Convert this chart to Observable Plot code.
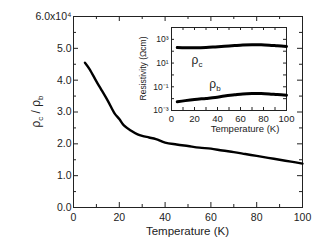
<!DOCTYPE html>
<html>
<head>
<meta charset="utf-8">
<script src="https://cdn.jsdelivr.net/npm/d3@7"></script>
<script src="https://cdn.jsdelivr.net/npm/@observablehq/plot@0.6"></script>
<style>
  html, body { margin: 0; padding: 0; background: white; }
  #wrap { position: relative; width: 327px; height: 251px; overflow: hidden; }
  #wrap svg { position: absolute; }
</style>
</head>
<body>
<div id="wrap"></div>
<script>
// ---- main data: ratio rho_c / rho_b (units of 1e4) vs temperature ----
const mainT =     [5,    7,    10,   12,   15,   18,   20,   22,   25,   28,   30,   33,   36,   40,   45,   50,   55,   60,   65,   70,   75,   80,   85,   90,   95,   100];
const mainRatio = [4.55, 4.35, 3.96, 3.72, 3.35, 2.95, 2.78, 2.58, 2.42, 2.30, 2.25, 2.20, 2.15, 2.04, 1.98, 1.93, 1.88, 1.85, 1.79, 1.74, 1.68, 1.62, 1.56, 1.50, 1.44, 1.38];

// ---- inset data: resistivities (Ohm cm) vs temperature ----
const insetT = [5,     12,     20,     30,     38,     46,     55,    62,    70,    78,    85,    92,    100];
const rhoC   = [205,   198,    195,    205,    230,    262,    300,   330,   350,   345,   320,   285,   250];
const rhoB   = [0.0054,0.0068, 0.0085, 0.0105, 0.0126, 0.0165, 0.021, 0.025, 0.027, 0.027, 0.025, 0.022, 0.0195];

// ---- ticks ----
const xMajor = [0, 20, 40, 60, 80, 100];
const xMinor = [10, 30, 50, 70, 90];
const yMajor = [0, 1, 2, 3, 4, 5, 6];
const yMinor = [0.5, 1.5, 2.5, 3.5, 4.5, 5.5];
const insetXTicks = [0, 10, 20, 30, 40, 50, 60, 70, 80, 90, 100];
const insetXLabels = [0, 20, 40, 60, 80, 100];
const insetYTicks = [1e-3, 1e-2, 1e-1, 1, 1e1, 1e2, 1e3];
const insetYLabels = [1e-3, 1e-1, 1e1, 1e3];
const insetYLabelText = ["10⁻³", "10⁻¹", "10¹", "10³"];

const font = "'Liberation Sans', Arial, Helvetica, sans-serif";
const ink = "#222";

// ---------------- main plot ----------------
const W = 327, H = 251, mL = 73, mR = 25, mT = 16, mB = 44;
const iw = W - mL - mR, ih = H - mT - mB;

const main = Plot.plot({
  width: W, height: H,
  marginLeft: mL, marginRight: mR, marginTop: mT, marginBottom: mB,
  style: { fontFamily: font, fontSize: "10.5px", background: "transparent", color: ink },
  x: { domain: [0, 100], label: null },
  y: { domain: [0, 6], label: null },
  marks: [
    Plot.frame({ stroke: ink, strokeWidth: 1 }),
    Plot.tickX(xMajor, { x: d => d, insetTop: ih - 5, stroke: ink }),
    Plot.tickX(xMajor, { x: d => d, insetBottom: ih - 5, stroke: ink }),
    Plot.tickX(xMinor, { x: d => d, insetTop: ih - 3, stroke: ink }),
    Plot.tickX(xMinor, { x: d => d, insetBottom: ih - 3, stroke: ink }),
    Plot.tickY(yMajor, { y: d => d, insetRight: iw - 5, stroke: ink }),
    Plot.tickY(yMajor, { y: d => d, insetLeft: iw - 5, stroke: ink }),
    Plot.tickY(yMinor, { y: d => d, insetRight: iw - 3, stroke: ink }),
    Plot.tickY(yMinor, { y: d => d, insetLeft: iw - 3, stroke: ink }),
    Plot.axisX(xMajor, { tickSize: 0, tickPadding: 6, label: null, fill: ink }),
    Plot.axisY(yMajor, { tickSize: 0, tickPadding: 2, label: null, fill: ink,
      tickFormat: d => d === 6 ? "6.0x10⁴" : d.toFixed(1) }),
    Plot.line(mainT.map((t, i) => ({ t, v: mainRatio[i] })), {
      x: "t", y: "v", stroke: "#000", strokeWidth: 2.4, curve: "catmull-rom"
    })
  ]
});
main.style.left = "0px";
main.style.top = "0px";
document.getElementById("wrap").appendChild(main);

// axis titles for main plot
const ms = d3.select(main);
ms.append("text")
  .attr("x", mL + iw / 2).attr("y", 235)
  .attr("text-anchor", "middle")
  .attr("font-family", font).attr("font-size", 11.5).attr("fill", ink)
  .text("Temperature (K)");
const yl = ms.append("text")
  .attr("transform", `translate(40, ${mT + ih / 2}) rotate(-90)`)
  .attr("text-anchor", "middle")
  .attr("font-family", font).attr("font-size", 12).attr("fill", ink);
yl.append("tspan").text("ρ");
yl.append("tspan").attr("font-size", 8).attr("dy", 3).text("c");
yl.append("tspan").attr("dy", -3).text(" / ρ");
yl.append("tspan").attr("font-size", 8).attr("dy", 3).text("b");

// ---------------- inset plot ----------------
const IW = 175, IH = 130, imL = 51, imR = 9, imT = 17, imB = 30;
const iiw = IW - imL - imR, iih = IH - imT - imB;

const inset = Plot.plot({
  width: IW, height: IH,
  marginLeft: imL, marginRight: imR, marginTop: imT, marginBottom: imB,
  style: { fontFamily: font, fontSize: "9.5px", background: "transparent", color: ink },
  x: { domain: [0, 100], label: null },
  y: { type: "log", domain: [1e-3, 1e4], label: null },
  marks: [
    Plot.frame({ stroke: ink, strokeWidth: 1 }),
    Plot.tickX(insetXTicks, { x: d => d, insetTop: iih - 3, stroke: ink }),
    Plot.tickX(insetXTicks, { x: d => d, insetBottom: iih - 3, stroke: ink }),
    Plot.tickY(insetYTicks, { y: d => d, insetRight: iiw - 3, stroke: ink }),
    Plot.tickY(insetYTicks, { y: d => d, insetLeft: iiw - 3, stroke: ink }),
    Plot.axisX(insetXLabels, { tickSize: 0, tickPadding: 5, label: null, fill: ink }),
    Plot.axisY(insetYLabels, { tickSize: 0, tickPadding: 3, label: null, fill: ink, fontSize: 8.5,
      tickFormat: d => insetYLabelText[insetYLabels.indexOf(d)] }),
    Plot.line(insetT.map((t, i) => ({ t, v: rhoC[i] })), {
      x: "t", y: "v", stroke: "#000", strokeWidth: 3, curve: "catmull-rom"
    }),
    Plot.line(insetT.map((t, i) => ({ t, v: rhoB[i] })), {
      x: "t", y: "v", stroke: "#000", strokeWidth: 3, curve: "catmull-rom"
    })
  ]
});
inset.style.left = "120px";
inset.style.top = "10px";
document.getElementById("wrap").appendChild(inset);

const is = d3.select(inset);
// curve labels with subscripts
function rhoLabel(x, y, sub) {
  const t = is.append("text").attr("x", x).attr("y", y)
    .attr("text-anchor", "middle")
    .attr("font-family", font).attr("font-size", 12).attr("fill", ink);
  t.append("tspan").text("ρ");
  t.append("tspan").attr("font-size", 8).attr("dy", 3).text(sub);
}
rhoLabel(77, 54, "c");
rhoLabel(95, 78, "b");

is.append("text")
  .attr("x", 125).attr("y", 122)
  .attr("text-anchor", "middle")
  .attr("font-family", font).attr("font-size", 9.5).attr("fill", ink)
  .text("Temperature (K)");
is.append("text")
  .attr("transform", `translate(26, ${imT + iih / 2}) rotate(-90)`)
  .attr("text-anchor", "middle")
  .attr("font-family", font).attr("font-size", 8.5).attr("fill", ink)
  .text("Resistivity (Ωcm)");
</script>
</body>
</html>
